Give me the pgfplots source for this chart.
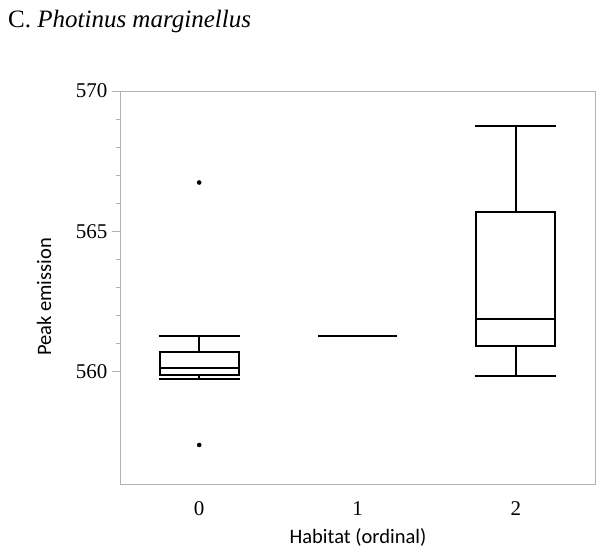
\documentclass[border=0pt]{standalone}
\usepackage{fontspec}
\setmainfont{Liberation Serif}
\newfontfamily\labelfont{Carlito}
\usepackage{pgfplots}
\pgfplotsset{compat=1.18}

\begin{document}
\begin{tikzpicture}
\useasboundingbox (0,0) rectangle (605bp,-553bp);
\node[anchor=base west, inner sep=0pt, font=\fontsize{25bp}{30bp}\selectfont]
  at (8bp,-27bp) {C. \textit{Photinus marginellus}};
\begin{axis}[
    at={(120bp,-484bp)}, anchor=south west,
    scale only axis, width=475bp, height=393bp,
    xmin=-0.5, xmax=2.5, ymin=556, ymax=570,
    xtick={0,1,2}, ytick={560,565,570},
    minor y tick num=4,
    ytick pos=left,
    tick align=outside,
    major tick length=8bp, minor tick length=4bp,
    xtick style={draw=none},
    tick style={black!30, line width=0.8bp},
    axis line style={black!30, line width=0.8bp},
    /pgf/number format/assume math mode=true,
    /pgf/number format/1000 sep={},
    tick label style={font=\fontsize{21bp}{23bp}\selectfont},
    yticklabel style={xshift=-1bp},
    xticklabel style={yshift=-6bp},
    xlabel={Habitat (ordinal)},
    ylabel={Peak emission},
    xlabel style={font=\labelfont\fontsize{20.5bp}{22bp}\selectfont, at={(axis description cs:0.501,-0.137)}, anchor=center},
    ylabel style={font=\labelfont\fontsize{20.5bp}{22bp}\selectfont, at={(axis description cs:-0.16,0.476)}, anchor=center},
    unbounded coords=jump,
]
% habitat 0: box, median, whiskers with caps
\addplot[black, line width=2bp, line join=miter, line cap=rect] coordinates {
  (-0.25,559.89) (0.25,559.89) (0.25,560.71) (-0.25,560.71) (-0.25,559.89) (nan,nan)
  (-0.25,560.15) (0.25,560.15) (nan,nan)
  (0,560.71) (0,561.29) (nan,nan)
  (-0.25,561.29) (0.25,561.29) (nan,nan)
  (0,559.89) (0,559.73) (nan,nan)
  (-0.25,559.73) (0.25,559.73)
};
\addplot[black, only marks, mark=*, mark size=2.1bp, mark options={fill=black, line width=0.3bp}]
  coordinates {(0,566.74) (0,557.39)};
% habitat 1: all values equal
\addplot[black, line width=2bp, mark=none] coordinates {(0.75,561.26) (1.25,561.26)};
% habitat 2
\addplot[black, line width=2bp, line join=miter, line cap=rect] coordinates {
  (1.75,560.90) (2.25,560.90) (2.25,565.68) (1.75,565.68) (1.75,560.90) (nan,nan)
  (1.75,561.88) (2.25,561.88) (nan,nan)
  (2,565.68) (2,568.76) (nan,nan)
  (1.75,568.76) (2.25,568.76) (nan,nan)
  (2,560.90) (2,559.83) (nan,nan)
  (1.75,559.83) (2.25,559.83)
};
\end{axis}
\end{tikzpicture}
\end{document}
